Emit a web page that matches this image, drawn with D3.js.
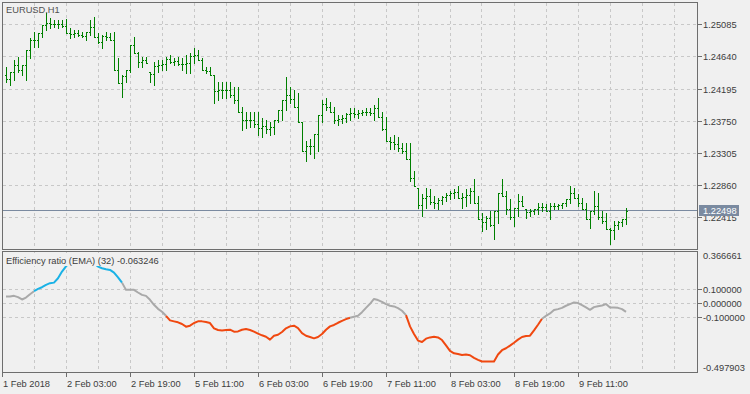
<!DOCTYPE html>
<html><head><meta charset="utf-8">
<script src="https://cdn.jsdelivr.net/npm/d3@7/dist/d3.min.js"></script>
<style>html,body{margin:0;padding:0;background:#f0f0f0;} svg{display:block;font-family:"Liberation Sans",Arial,sans-serif;}</style>
</head><body><svg id="c" width="750" height="394"></svg>
<script>
const symbolLabel = "EURUSD,H1";
const indicatorLabel = "Efficiency ratio (EMA) (32) -0.063246";
const timeLabels = ["1 Feb 2018","2 Feb 03:00","2 Feb 19:00","5 Feb 11:00","6 Feb 03:00","6 Feb 19:00","7 Feb 11:00","8 Feb 03:00","8 Feb 19:00","9 Feb 11:00"];
const timeLabelBars = [-1,15,31,47,63,79,95,111,127,143];
const priceTicks = [1.25085,1.24640,1.24195,1.23750,1.23305,1.22860,1.22415];
const erTicks = [0.1,0,-0.1];
const erScaleMax = 0.366661, erScaleMin = -0.497903;
const lastPrice = 1.22498;

const opens = [1.24381,1.24332,1.24422,1.24526,1.24450,1.24520,1.24728,1.24874,1.24867,1.24964,
1.25076,1.25103,1.25096,1.25089,1.25096,1.25062,1.24964,1.24957,1.24964,1.24943,
1.24923,1.24978,1.25048,1.24909,1.24846,1.24923,1.24916,1.24867,1.24450,1.24269,
1.24367,1.24450,1.24798,1.24686,1.24561,1.24589,1.24422,1.24401,1.24506,1.24520,
1.24540,1.24603,1.24568,1.24575,1.24533,1.24533,1.24547,1.24652,1.24659,1.24589,
1.24450,1.24436,1.24381,1.24158,1.24172,1.24172,1.24179,1.24103,1.24040,1.23866,
1.23755,1.23762,1.23762,1.23706,1.23651,1.23672,1.23637,1.23665,1.23755,1.23894,
1.24033,1.24103,1.24054,1.23936,1.23727,1.23338,1.23401,1.23408,1.23574,1.23825,
1.23977,1.23936,1.23866,1.23755,1.23769,1.23790,1.23838,1.23859,1.23838,1.23859,
1.23873,1.23873,1.23859,1.23929,1.23797,1.23637,1.23477,1.23456,1.23428,1.23380,
1.23338,1.23227,1.22956,1.22824,1.22587,1.22685,1.22706,1.22629,1.22608,1.22657,
1.22699,1.22726,1.22747,1.22768,1.22685,1.22692,1.22719,1.22782,1.22615,1.22393,
1.22344,1.22400,1.22309,1.22504,1.22754,1.22713,1.22532,1.22421,1.22546,1.22643,
1.22532,1.22483,1.22497,1.22532,1.22560,1.22553,1.22504,1.22574,1.22567,1.22580,
1.22615,1.22671,1.22754,1.22685,1.22608,1.22532,1.22393,1.22504,1.22574,1.22421,
1.22365,1.22254,1.22240,1.22309,1.22344,1.22393];
const highs = [1.24492,1.24422,1.24589,1.24631,1.24520,1.24728,1.24895,1.24978,1.24964,1.25076,
1.25242,1.25173,1.25145,1.25145,1.25145,1.25159,1.25034,1.25006,1.25006,1.24978,
1.24978,1.25145,1.25187,1.24964,1.24937,1.24978,1.24964,1.24978,1.24617,1.24381,
1.24450,1.24798,1.24909,1.24700,1.24631,1.24631,1.24422,1.24561,1.24589,1.24589,
1.24631,1.24659,1.24617,1.24631,1.24617,1.24659,1.24686,1.24756,1.24728,1.24617,
1.24492,1.24492,1.24381,1.24283,1.24283,1.24283,1.24283,1.24214,1.24214,1.23936,
1.23866,1.23866,1.23866,1.23866,1.23783,1.23755,1.23727,1.23755,1.23894,1.24033,
1.24353,1.24214,1.24172,1.24130,1.23727,1.23477,1.23505,1.23574,1.23825,1.24033,
1.24061,1.24005,1.23936,1.23825,1.23825,1.23852,1.23922,1.23922,1.23894,1.23894,
1.23922,1.23922,1.23964,1.24061,1.23866,1.23797,1.23519,1.23547,1.23519,1.23449,
1.23449,1.23449,1.23060,1.22824,1.22740,1.22824,1.22810,1.22713,1.22685,1.22713,
1.22754,1.22782,1.22810,1.22852,1.22754,1.22810,1.22824,1.22949,1.22713,1.22476,
1.22435,1.22504,1.22504,1.22754,1.22949,1.22782,1.22671,1.22546,1.22740,1.22713,
1.22532,1.22532,1.22532,1.22615,1.22615,1.22601,1.22615,1.22615,1.22601,1.22615,
1.22671,1.22852,1.22824,1.22740,1.22685,1.22615,1.22504,1.22782,1.22754,1.22504,
1.22476,1.22268,1.22365,1.22365,1.22393,1.22546];
const lows = [1.24283,1.24242,1.24311,1.24422,1.24381,1.24311,1.24617,1.24770,1.24770,1.24909,
1.25006,1.25034,1.25048,1.25034,1.25048,1.24964,1.24895,1.24909,1.24923,1.24909,
1.24867,1.24937,1.24909,1.24825,1.24756,1.24867,1.24867,1.24450,1.24269,1.24075,
1.24283,1.24422,1.24686,1.24492,1.24492,1.24547,1.24283,1.24242,1.24422,1.24450,
1.24450,1.24547,1.24520,1.24520,1.24450,1.24408,1.24408,1.24547,1.24589,1.24450,
1.24408,1.24381,1.23991,1.24033,1.24061,1.24061,1.24075,1.23991,1.23866,1.23616,
1.23644,1.23658,1.23658,1.23547,1.23519,1.23588,1.23547,1.23574,1.23727,1.23755,
1.23894,1.23991,1.23936,1.23727,1.23338,1.23199,1.23296,1.23241,1.23338,1.23727,
1.23894,1.23866,1.23713,1.23686,1.23713,1.23727,1.23755,1.23797,1.23783,1.23825,
1.23825,1.23825,1.23755,1.23797,1.23616,1.23477,1.23366,1.23366,1.23338,1.23310,
1.23227,1.22921,1.22852,1.22546,1.22435,1.22546,1.22601,1.22546,1.22532,1.22601,
1.22643,1.22671,1.22685,1.22685,1.22546,1.22574,1.22615,1.22615,1.22393,1.22226,
1.22254,1.22296,1.22115,1.22337,1.22713,1.22462,1.22393,1.22296,1.22435,1.22574,
1.22407,1.22435,1.22462,1.22462,1.22504,1.22504,1.22393,1.22532,1.22532,1.22546,
1.22574,1.22615,1.22685,1.22574,1.22532,1.22393,1.22268,1.22462,1.22393,1.22337,
1.22254,1.22045,1.22115,1.22254,1.22296,1.22323];
const closes = [1.24332,1.24422,1.24526,1.24450,1.24520,1.24728,1.24874,1.24867,1.24964,1.25076,
1.25103,1.25096,1.25089,1.25096,1.25062,1.24964,1.24957,1.24964,1.24943,1.24923,
1.24978,1.25048,1.24909,1.24846,1.24923,1.24916,1.24867,1.24450,1.24269,1.24367,
1.24450,1.24798,1.24686,1.24561,1.24589,1.24547,1.24401,1.24506,1.24520,1.24540,
1.24603,1.24568,1.24575,1.24533,1.24533,1.24547,1.24652,1.24659,1.24589,1.24450,
1.24436,1.24381,1.24158,1.24172,1.24172,1.24179,1.24103,1.24040,1.23866,1.23755,
1.23762,1.23762,1.23706,1.23651,1.23672,1.23637,1.23665,1.23755,1.23894,1.24033,
1.24103,1.24054,1.23936,1.23727,1.23338,1.23401,1.23408,1.23574,1.23825,1.23977,
1.23936,1.23866,1.23755,1.23769,1.23790,1.23838,1.23859,1.23838,1.23859,1.23873,
1.23873,1.23859,1.23929,1.23797,1.23637,1.23477,1.23456,1.23428,1.23380,1.23338,
1.23227,1.22956,1.22852,1.22587,1.22685,1.22706,1.22629,1.22608,1.22657,1.22699,
1.22726,1.22747,1.22768,1.22685,1.22692,1.22719,1.22782,1.22615,1.22393,1.22344,
1.22400,1.22309,1.22504,1.22754,1.22713,1.22532,1.22421,1.22546,1.22643,1.22574,
1.22483,1.22497,1.22532,1.22560,1.22553,1.22504,1.22574,1.22567,1.22580,1.22615,
1.22671,1.22754,1.22685,1.22608,1.22532,1.22393,1.22504,1.22574,1.22421,1.22365,
1.22254,1.22240,1.22309,1.22344,1.22393,1.22498];
const er = [0.047,0.047,0.052,0.043,0.026,0.040,0.064,0.085,0.102,0.114,
0.131,0.143,0.147,0.178,0.226,0.264,0.290,0.314,0.333,0.343,
0.338,0.314,0.285,0.262,0.250,0.243,0.238,0.219,0.185,0.147,
0.095,0.095,0.095,0.076,0.059,0.052,0.024,-0.012,-0.041,-0.062,
-0.091,-0.124,-0.131,-0.138,-0.150,-0.169,-0.162,-0.143,-0.131,-0.131,
-0.136,-0.143,-0.181,-0.193,-0.196,-0.193,-0.191,-0.205,-0.203,-0.191,
-0.186,-0.193,-0.205,-0.219,-0.231,-0.241,-0.262,-0.234,-0.227,-0.207,
-0.181,-0.167,-0.162,-0.179,-0.215,-0.234,-0.243,-0.253,-0.243,-0.222,
-0.191,-0.167,-0.157,-0.141,-0.127,-0.115,-0.105,-0.098,-0.091,-0.065,
-0.034,-0.005,0.030,0.022,0.009,-0.007,-0.019,-0.024,-0.036,-0.055,
-0.086,-0.167,-0.222,-0.269,-0.279,-0.255,-0.246,-0.241,-0.246,-0.265,
-0.303,-0.343,-0.360,-0.365,-0.372,-0.369,-0.374,-0.393,-0.407,-0.419,
-0.419,-0.419,-0.419,-0.369,-0.338,-0.324,-0.305,-0.284,-0.262,-0.243,
-0.236,-0.234,-0.196,-0.155,-0.112,-0.091,-0.074,-0.050,-0.043,-0.034,
-0.019,-0.007,0.005,0.000,-0.015,-0.031,-0.048,-0.029,-0.022,-0.017,
-0.007,-0.031,-0.031,-0.034,-0.043,-0.063246];

const BG = "#f0f0f0", GRID = "#c8c8c8", BORDER = "#6e6e6e", TXT = "#3c3c3c";
const BAR = "#008000", GRAY = "#a9a9a9", BLUE = "#1ab2e6", RED = "#f04810";
const FS = "9.3px";

const svg = d3.select("#c");
svg.append("rect").attr("width",750).attr("height",394).attr("fill",BG);

const Lx = 2.5, Rx = 697.5, T1 = 2.5, B1 = 249.5, T2 = 251.5, B2 = 372.5;
const x = d3.scaleLinear().domain([0, 155]).range([6, 626]);
const yP = d3.scaleLinear().domain([1.22415, 1.25085]).range([217.3, 24.3]);
const yE = d3.scaleLinear().domain([erScaleMin, erScaleMax]).range([372.5, 252]);

// vertical grid (every 8 bars)
const gridBars = d3.range(7, 200, 8).filter(i => x(i) < Rx - 2);
const g = svg.append("g").attr("shape-rendering","crispEdges");
[[T1,B1],[T2,B2]].forEach(([t,b]) => {
  g.selectAll(null).data(gridBars).enter().append("line")
    .attr("x1", d => Math.floor(x(d)) + 0.5).attr("x2", d => Math.floor(x(d)) + 0.5)
    .attr("y1", t).attr("y2", b).attr("stroke", GRID).attr("stroke-dasharray","3,3");
});
g.selectAll(null).data(priceTicks).enter().append("line")
  .attr("x1", Lx).attr("x2", Rx)
  .attr("y1", d => Math.round(yP(d)) + 0.5).attr("y2", d => Math.round(yP(d)) + 0.5)
  .attr("stroke", GRID).attr("stroke-dasharray","3,3");
g.selectAll(null).data(erTicks).enter().append("line")
  .attr("x1", Lx).attr("x2", Rx)
  .attr("y1", d => Math.round(yE(d)) + 0.5).attr("y2", d => Math.round(yE(d)) + 0.5)
  .attr("stroke", GRID).attr("stroke-dasharray","3,3");

// current price line
const lpY = Math.round(yP(lastPrice)) - 0.5;
svg.append("line").attr("x1", Lx).attr("x2", Rx).attr("y1", lpY).attr("y2", lpY)
  .attr("stroke", "#7a8aa0").attr("shape-rendering","crispEdges");

// OHLC bars
const bars = svg.append("g").attr("fill", BAR).attr("shape-rendering","crispEdges");
opens.forEach((o, i) => {
  const cx = Math.round(x(i));
  const yh = Math.round(yP(highs[i])), yl = Math.round(yP(lows[i]));
  bars.append("rect").attr("x", cx).attr("y", yh).attr("width", 1).attr("height", Math.max(1, yl - yh + 1));
  bars.append("rect").attr("x", cx - 1).attr("y", Math.round(yP(o))).attr("width", 1).attr("height", 1);
  bars.append("rect").attr("x", cx + 1).attr("y", Math.round(yP(closes[i]))).attr("width", 1).attr("height", 1);
});

// ER line colored segments
const colorOf = v => v > 0.1 ? BLUE : (v < -0.1 ? RED : GRAY);
const runs = [];
for (let i = 1; i < er.length; i++) {
  const c = colorOf(er[i]);
  if (runs.length && runs[runs.length - 1].c === c) runs[runs.length - 1].pts.push(i);
  else runs.push({c, pts: [i - 1, i]});
}
const line = d3.line().x(i => x(i)).y(i => yE(er[i]));
const erG = svg.append("g");
runs.forEach(r => {
  erG.append("path").attr("d", line(r.pts)).attr("fill","none")
    .attr("stroke", r.c).attr("stroke-width", 2).attr("stroke-linejoin","round");
});

// indicator label with background
const lbl = svg.append("text").attr("x", 6).attr("y", 264).attr("font-size", FS).attr("fill", TXT).text(indicatorLabel);
const bb = lbl.node().getBBox();
svg.insert("rect", "text").attr("x", bb.x - 1).attr("y", 253).attr("width", bb.width + 2).attr("height", 13).attr("fill", BG);

svg.append("text").attr("x", 6).attr("y", 12.7).attr("font-size", FS).attr("fill", "#505050").text(symbolLabel);

// borders
const bg2 = svg.append("g").attr("fill","none").attr("stroke", BORDER).attr("shape-rendering","crispEdges");
bg2.append("rect").attr("x", Lx).attr("y", T1).attr("width", Rx - Lx).attr("height", B1 - T1);
bg2.append("rect").attr("x", Lx).attr("y", T2).attr("width", Rx - Lx).attr("height", B2 - T2);

// right price axis
const ax = svg.append("g").attr("font-size", FS).attr("fill", TXT);
priceTicks.forEach(p => {
  const yy = Math.round(yP(p)) + 0.5;
  ax.append("line").attr("x1", Rx).attr("x2", Rx + 4).attr("y1", yy).attr("y2", yy).attr("stroke", BORDER).attr("shape-rendering","crispEdges");
  ax.append("text").attr("x", 703).attr("y", yy).attr("dy", "0.35em").text(p.toFixed(5));
});
// current price tag
const tag = svg.append("g");
tag.append("rect").attr("x", 699).attr("y", lpY - 5.5).attr("width", 40).attr("height", 11).attr("fill", "#7a8aa0");
tag.append("text").attr("x", 703).attr("y", lpY).attr("dy","0.35em").attr("font-size", FS).attr("fill","#ffffff").text(lastPrice.toFixed(5));

// right ER axis
erTicks.forEach(v => {
  const yy = Math.round(yE(v)) + 0.5;
  ax.append("line").attr("x1", Rx).attr("x2", Rx + 4).attr("y1", yy).attr("y2", yy).attr("stroke", BORDER).attr("shape-rendering","crispEdges");
  ax.append("text").attr("x", 703).attr("y", yy).attr("dy", "0.35em").text(v.toFixed(6));
});
ax.append("text").attr("x", 703).attr("y", yE(erScaleMax) + 4).attr("dy","0.35em").text(erScaleMax.toFixed(6));
ax.append("text").attr("x", 703).attr("y", yE(erScaleMin) - 5).attr("dy","0.35em").text(erScaleMin.toFixed(6));

// time axis
timeLabelBars.forEach((b, k) => {
  const xx = Math.max(Lx, Math.round(x(b)) + 0.5);
  ax.append("line").attr("x1", xx).attr("x2", xx).attr("y1", B2).attr("y2", B2 + 4).attr("stroke", BORDER).attr("shape-rendering","crispEdges");
  ax.append("text").attr("x", xx + 0.5).attr("y", 386.5).text(timeLabels[k]);
});
</script></body></html>
